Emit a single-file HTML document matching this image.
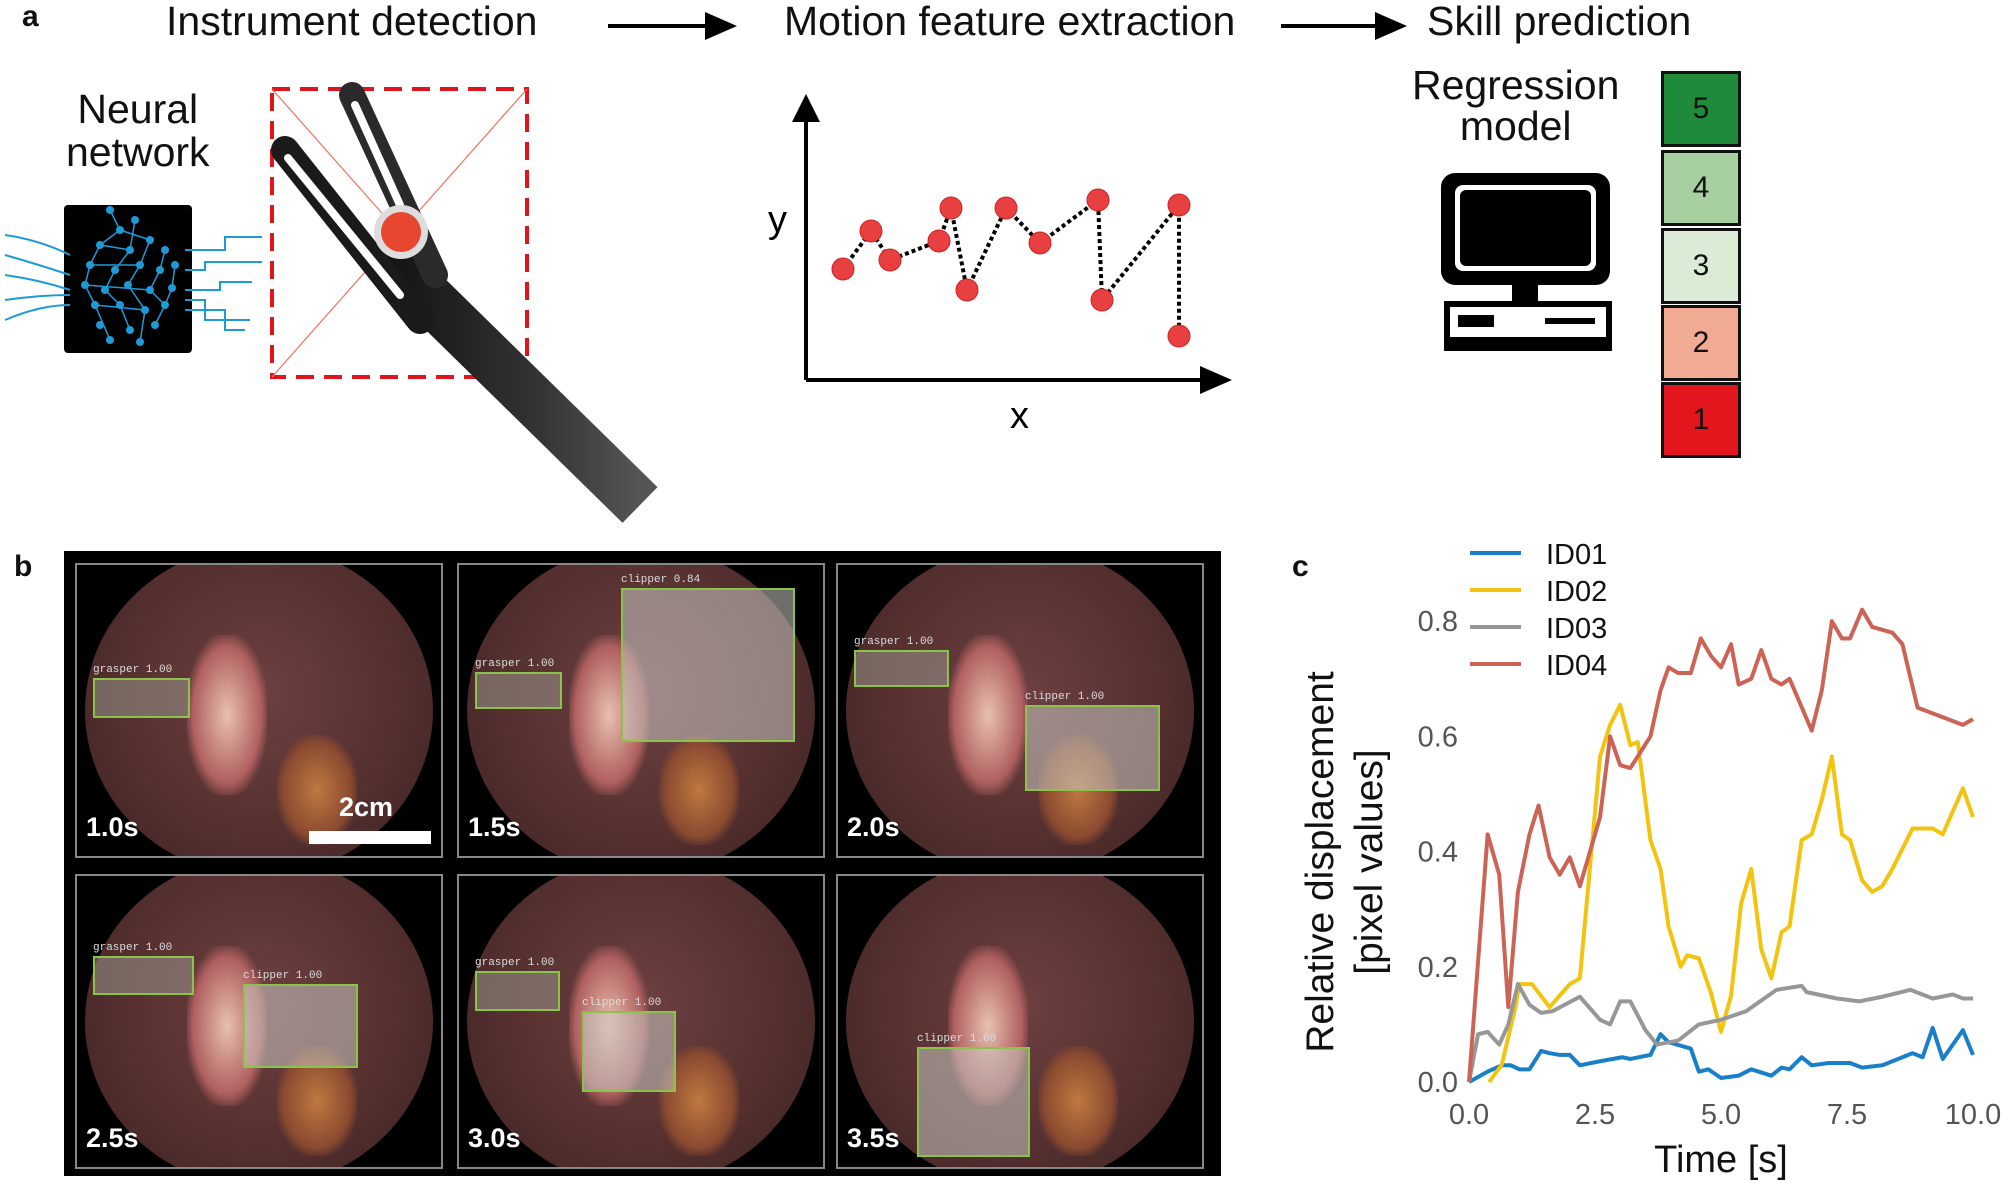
<!DOCTYPE html>
<html><head><meta charset="utf-8"><style>
body{margin:0;background:#fff;width:2007px;height:1183px;overflow:hidden;position:relative;font-family:"Liberation Sans",sans-serif}
.t{position:absolute;white-space:nowrap;color:#111}
.cell{position:absolute;background:#000;border:2px solid #888;overflow:hidden}
.gb{position:absolute;border:2px solid #8bc34a}
.lab{position:absolute;color:#fff;font-weight:bold;font-size:27px}
.sm{position:absolute;color:#ddd;font-size:11px;font-family:"Liberation Mono",monospace}
.box{position:absolute;left:1661px;width:74px;height:70px;border:3px solid #111;font-size:30px;text-align:center;line-height:70px;color:#111}
</style></head><body>
<div class="t" style="left:22px;top:0px;font-size:30px;font-weight:bold">a</div>
<div class="t" style="left:166px;top:-2px;font-size:41px">Instrument detection</div>
<div class="t" style="left:784px;top:-2px;font-size:41px">Motion feature extraction</div>
<div class="t" style="left:1427px;top:-2px;font-size:41px">Skill prediction</div>
<div class="t" style="left:66px;top:88px;font-size:41px;text-align:center;line-height:43px">Neural<br>network</div>
<div class="t" style="left:1412px;top:65px;font-size:41px;text-align:center;line-height:41px">Regression<br>model</div>

<svg style="position:absolute;left:0;top:0" width="2007" height="540">
<defs><linearGradient id="sg" x1="0" y1="0" x2="1" y2="0"><stop offset="0" stop-color="#111"/><stop offset="0.6" stop-color="#333"/><stop offset="1" stop-color="#555"/></linearGradient></defs>
<g><line x1="608" y1="26" x2="715" y2="26" stroke="#000" stroke-width="4"/><polygon points="705,12 737,26 705,40" fill="#000"/></g>
<g><line x1="1281" y1="26" x2="1385" y2="26" stroke="#000" stroke-width="4"/><polygon points="1375,12 1407,26 1375,40" fill="#000"/></g>
<rect x="64" y="205" width="128" height="148" rx="4" fill="#000"/>
<g stroke="#1e9ad6" stroke-width="2" fill="none">
<path d="M5,235 Q40,240 70,255"/><path d="M5,255 Q40,265 70,275"/><path d="M5,275 Q40,280 70,290"/><path d="M5,300 Q40,295 70,295"/><path d="M5,320 Q40,305 70,305"/>
<path d="M185,250 L225,250 L225,237 L262,237"/><path d="M185,270 L205,270 L205,262 L262,262"/><path d="M185,290 L220,290 L220,282 L252,282"/><path d="M185,300 L205,300 L205,320 L250,320"/><path d="M185,310 L225,310 L225,330 L245,330"/>
</g>
<g stroke="#1e9ad6" stroke-width="1.5" fill="none">
<path d="M110,210 L120,230 L100,245 L90,265 L85,285 L95,305 L110,340 M135,220 L130,250 L115,270 L105,290 L120,305 L130,330 M150,240 L140,265 L128,285 L145,310 L140,342 M165,250 L160,270 L150,290 L165,305 L155,325 M175,265 L172,288 L165,305 M120,230 L150,240 M100,245 L130,250 M90,265 L140,265 M85,285 L150,290 M95,305 L145,310"/>
</g>
<g fill="#1e9ad6">
<circle cx="110" cy="210" r="4"/><circle cx="120" cy="230" r="4"/><circle cx="135" cy="220" r="4"/><circle cx="100" cy="245" r="4"/><circle cx="130" cy="250" r="4"/><circle cx="150" cy="240" r="4"/><circle cx="165" cy="250" r="4"/><circle cx="90" cy="265" r="4"/><circle cx="115" cy="270" r="4"/><circle cx="140" cy="265" r="4"/><circle cx="160" cy="270" r="4"/><circle cx="175" cy="265" r="4"/><circle cx="85" cy="285" r="4"/><circle cx="105" cy="290" r="4"/><circle cx="128" cy="285" r="4"/><circle cx="150" cy="290" r="4"/><circle cx="172" cy="288" r="4"/><circle cx="95" cy="305" r="4"/><circle cx="120" cy="305" r="4"/><circle cx="145" cy="310" r="4"/><circle cx="165" cy="305" r="4"/><circle cx="100" cy="325" r="4"/><circle cx="130" cy="330" r="4"/><circle cx="155" cy="325" r="4"/><circle cx="110" cy="340" r="4"/><circle cx="140" cy="342" r="4"/>
</g>
<rect x="272" y="89" width="255" height="288" fill="none" stroke="#e0141b" stroke-width="4" stroke-dasharray="18,10"/>
<line x1="272" y1="89" x2="527" y2="377" stroke="#f07060" stroke-width="1.2"/><line x1="527" y1="89" x2="272" y2="377" stroke="#f07060" stroke-width="1.2"/>
<g stroke-linecap="round">
<line x1="380" y1="250" x2="640" y2="505" stroke="url(#sg)" stroke-width="50" stroke-linecap="butt"/>
<line x1="285" y1="150" x2="420" y2="320" stroke="#1a1a1a" stroke-width="28"/>
<line x1="288" y1="158" x2="400" y2="295" stroke="#fff" stroke-width="8"/>
<line x1="352" y1="95" x2="435" y2="275" stroke="#2a2a2a" stroke-width="26"/>
<line x1="355" y1="105" x2="400" y2="205" stroke="#fff" stroke-width="8"/>
</g>
<circle cx="401" cy="232" r="27" fill="#ddd"/><circle cx="401" cy="232" r="20" fill="#e8472f"/>
<g>
<line x1="806" y1="380" x2="1210" y2="380" stroke="#000" stroke-width="4"/><polygon points="1200,366 1232,380 1200,394" fill="#000"/>
<line x1="806" y1="380" x2="806" y2="115" stroke="#000" stroke-width="4"/><polygon points="792,122 806,94 820,122" fill="#000"/>
<polyline points="843,269 871,231 890,260 939,241 951,208 967,290 1006,208 1040,243 1098,200 1102,300 1179,205 1179,336" fill="none" stroke="#000" stroke-width="4" stroke-dasharray="4,3"/>
<g fill="#e84040" stroke="#c22" stroke-width="1"><circle cx="843" cy="269" r="11"/><circle cx="871" cy="231" r="11"/><circle cx="890" cy="260" r="11"/><circle cx="939" cy="241" r="11"/><circle cx="951" cy="208" r="11"/><circle cx="967" cy="290" r="11"/><circle cx="1006" cy="208" r="11"/><circle cx="1040" cy="243" r="11"/><circle cx="1098" cy="200" r="11"/><circle cx="1102" cy="300" r="11"/><circle cx="1179" cy="205" r="11"/><circle cx="1179" cy="336" r="11"/></g>
<text x="768" y="232" font-size="38" font-family="Liberation Sans">y</text><text x="1010" y="428" font-size="38" font-family="Liberation Sans">x</text>
</g>
<g>
<rect x="1441" y="173" width="169" height="112" rx="14" fill="#000"/><rect x="1455" y="185" width="141" height="86" rx="8" fill="#fff"/><rect x="1460" y="190" width="131" height="76" rx="6" fill="#000"/>
<rect x="1512" y="285" width="26" height="16" fill="#000"/>
<rect x="1444" y="301" width="168" height="50" fill="#000"/><rect x="1450" y="307" width="156" height="30" fill="#fff"/>
<rect x="1458" y="315" width="36" height="12" fill="#000"/><rect x="1545" y="318" width="50" height="6" fill="#000"/>
</g>
</svg>
<div class="box" style="top:71px;background:#1e8a3a">5</div>
<div class="box" style="top:150px;background:#a7cfa0">4</div>
<div class="box" style="top:228px;background:#dcebd6">3</div>
<div class="box" style="top:305px;background:#f2ab93">2</div>
<div class="box" style="top:382px;background:#e2161c">1</div>

<div class="t" style="left:14px;top:550px;font-size:30px;font-weight:bold">b</div>
<div id="frames" style="position:absolute;left:64px;top:551px;width:1157px;height:625px;background:#000"></div>

<div class="t" style="left:1292px;top:550px;font-size:30px;font-weight:bold">c</div>
<svg id="chart" style="position:absolute;left:0;top:0" width="2007" height="1183"></svg>

<script>
// ---- panel b frames ----
const frameTimes=["1.0s","1.5s","2.0s","2.5s","3.0s","3.5s"];
const cols=[11,393,772], rows=[12,323], cw=364, ch=291;
const boxes=[
 [[16,113,93,36,"grasper 1.00"]],
 [[16,107,83,33,"grasper 1.00"],[162,23,170,150,"clipper 0.84"]],
 [[16,85,91,33,"grasper 1.00"],[187,140,131,82,"clipper 1.00"]],
 [[16,80,97,35,"grasper 1.00"],[166,108,111,80,"clipper 1.00"]],
 [[16,95,81,36,"grasper 1.00"],[123,135,90,77,"clipper 1.00"]],
 [[79,171,109,106,"clipper 1.00"]]];
const fr=document.getElementById('frames');
frameTimes.forEach((tl,i)=>{
 const c=document.createElement('div');
 
 
 c.className='cell';
 c.style.left=cols[i%3]+'px';c.style.top=rows[Math.floor(i/3)]+'px';c.style.width=cw+'px';c.style.height=ch+'px';
 c.innerHTML='<div style="position:absolute;left:8px;top:-20px;width:'+(cw-16)+'px;height:'+(ch+40)+'px;border-radius:50%;background:radial-gradient(ellipse at 50% 45%,#6e4042 0%,#55302f 55%,#3a2022 100%)"></div>'+
 '<div style="position:absolute;left:110px;top:70px;width:80px;height:160px;border-radius:40%;background:radial-gradient(#e8c0b0,#b06060 60%,transparent 75%)"></div>'+
 '<div style="position:absolute;left:200px;top:170px;width:80px;height:110px;border-radius:40%;background:radial-gradient(#c07840,#8a4a30 60%,transparent 75%)"></div>';
 boxes[i].forEach(b=>{
  const g=document.createElement('div');
  
  
  g.className='gb';g.style.left=b[0]+'px';g.style.top=b[1]+'px';g.style.width=b[2]+'px';g.style.height=b[3]+'px';
  g.style.background=b[4].startsWith('clip')?'rgba(200,200,195,0.55)':'rgba(160,160,150,0.5)';
  c.appendChild(g);
  const s=document.createElement('div');
  
  
  s.className='sm';s.style.left=b[0]+'px';s.style.top=(b[1]-14)+'px';s.textContent=b[4];c.appendChild(s);
 });
 const l=document.createElement('div');
 
 
 l.className='lab';l.style.left='9px';l.style.top=(ch-44)+'px';l.textContent=tl;c.appendChild(l);
 if(i===0){
  c.insertAdjacentHTML('beforeend','<div style="position:absolute;left:232px;top:266px;width:122px;height:13px;background:#fff"></div><div class="lab" style="left:262px;top:227px">2cm</div>');
 }
 fr.appendChild(c);
});

// ---- panel c chart ----
const xTicks=[0,2.5,5,7.5,10];
const yTicks=[0,0.2,0.4,0.6,0.8];
const seriesNames=["ID01","ID02","ID03","ID04"];
const seriesColors=["#1a7fc9","#f2c40f","#979797","#cc6456"];
const t01=[0,0.37,0.65,0.83,1.0,1.2,1.43,1.6,1.8,2.0,2.2,2.6,3.04,3.2,3.6,3.8,3.96,4.4,4.56,4.75,5.0,5.35,5.6,6.0,6.2,6.36,6.6,6.8,7.14,7.56,7.8,8.2,8.6,8.8,9.0,9.2,9.4,9.8,10];
const v01=[0,0.018,0.029,0.029,0.022,0.022,0.054,0.05,0.047,0.047,0.029,0.036,0.043,0.04,0.047,0.083,0.069,0.058,0.018,0.022,0.007,0.011,0.022,0.011,0.025,0.022,0.043,0.029,0.033,0.033,0.025,0.029,0.043,0.05,0.043,0.094,0.04,0.09,0.047];
const t02=[0.4,0.65,0.92,1.0,1.25,1.6,2.0,2.2,2.6,2.8,3.0,3.2,3.35,3.6,3.8,3.96,4.2,4.33,4.56,4.8,5.0,5.2,5.4,5.6,5.8,6.0,6.2,6.36,6.6,6.8,7.0,7.2,7.4,7.56,7.8,8.0,8.2,8.4,8.8,9.2,9.4,9.8,10];
const v02=[0,0.03,0.13,0.17,0.17,0.13,0.17,0.18,0.565,0.62,0.655,0.585,0.59,0.42,0.37,0.27,0.2,0.22,0.215,0.155,0.087,0.15,0.31,0.37,0.23,0.18,0.26,0.27,0.42,0.43,0.49,0.565,0.43,0.42,0.35,0.33,0.34,0.37,0.44,0.44,0.43,0.51,0.46];
const t03=[0,0.18,0.37,0.6,0.78,0.97,1.2,1.43,1.66,2.2,2.6,2.8,3.0,3.2,3.5,3.73,4.15,4.56,5.0,5.5,6.1,6.6,6.7,7.3,7.74,8.2,8.76,9.2,9.6,9.8,10];
const v03=[0,0.083,0.087,0.065,0.1,0.17,0.134,0.12,0.123,0.148,0.108,0.1,0.14,0.14,0.09,0.065,0.072,0.1,0.108,0.123,0.16,0.167,0.156,0.145,0.14,0.148,0.16,0.145,0.152,0.145,0.145];
const t04=[0,0.37,0.6,0.78,0.97,1.2,1.38,1.6,1.8,2.0,2.2,2.6,2.8,3.0,3.2,3.6,3.8,3.96,4.15,4.4,4.6,4.8,5.0,5.2,5.35,5.6,5.8,6.0,6.2,6.36,6.8,7.0,7.2,7.4,7.56,7.8,8.0,8.4,8.6,8.9,9.2,9.5,9.8,10];
const v04=[0,0.43,0.36,0.13,0.33,0.43,0.48,0.39,0.36,0.39,0.34,0.46,0.6,0.55,0.545,0.6,0.68,0.72,0.71,0.71,0.77,0.74,0.72,0.76,0.69,0.7,0.75,0.7,0.69,0.7,0.61,0.68,0.8,0.77,0.77,0.82,0.79,0.78,0.76,0.65,0.64,0.63,0.62,0.63];
const allT=[t01,t02,t03,t04], allV=[v01,v02,v03,v04];
const X=t=>1469+t*50.4, Y=v=>1082-v*576;
const svg=document.getElementById('chart'), NS='http://www.w3.org/2000/svg';
function mk(tag,attrs,txt){const e=document.createElementNS(NS,tag);for(const k in attrs)e.setAttribute(k,attrs[k]);if(txt!==undefined)e.textContent=txt;svg.appendChild(e);return e;}
xTicks.forEach(v=>{const e=mk('text',{x:X(v),y:1124,'text-anchor':'middle','font-size':29,fill:'#555','font-family':'Liberation Sans'},v.toFixed(1));

});
yTicks.forEach(v=>{const e=mk('text',{x:1458,y:Y(v)+10,'text-anchor':'end','font-size':29,fill:'#555','font-family':'Liberation Sans'},v.toFixed(1));

});
const xt=mk('text',{x:X(5),y:1172,'text-anchor':'middle','font-size':38,fill:'#111','font-family':'Liberation Sans'},'Time [s]');


const yt=mk('text',{x:0,y:0,'text-anchor':'middle','font-size':39,fill:'#111','font-family':'Liberation Sans',transform:'translate(1333,862) rotate(-90)'},'Relative displacement');


const yt2=mk('text',{x:0,y:0,'text-anchor':'middle','font-size':39,fill:'#111','font-family':'Liberation Sans',transform:'translate(1382,862) rotate(-90)'},'[pixel values]');


seriesNames.forEach((n,i)=>{
 const p=mk('polyline',{points:allT[i].map((t,j)=>X(t)+','+Y(allV[i][j])).join(' '),fill:'none',stroke:seriesColors[i],'stroke-width':4,'stroke-linejoin':'round'});
 
 
 const ly=553+i*37;
 const ll=mk('line',{x1:1470,x2:1521,y1:ly,y2:ly,stroke:seriesColors[i],'stroke-width':4});
 
 
 const lt=mk('text',{x:1546,y:ly+11,'font-size':29,fill:'#111','font-family':'Liberation Sans'},n);
 
 
});
</script>
</body></html>
